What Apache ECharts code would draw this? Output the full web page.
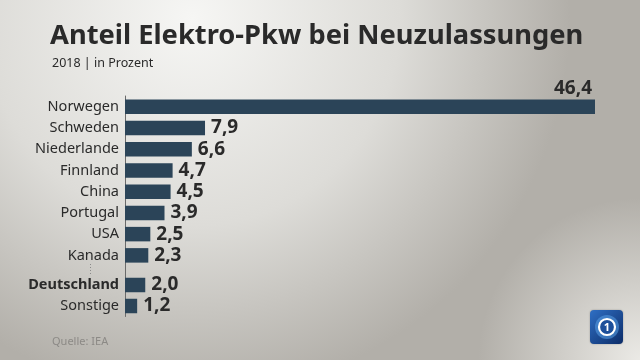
<!DOCTYPE html>
<html>
<head>
<meta charset="utf-8">
<script src="https://cdn.jsdelivr.net/npm/echarts@6/dist/echarts.min.js"></script>
<style>
html,body{margin:0;padding:0;}
#chart{width:640px;height:360px;}
</style>
</head>
<body>
<div id="chart"></div>
<script>
// Data
var topCategories = ['Norwegen', 'Schweden', 'Niederlande', 'Finnland', 'China', 'Portugal', 'USA', 'Kanada'];
var topValues = [46.4, 7.9, 6.6, 4.7, 4.5, 3.9, 2.5, 2.3];
var bottomCategories = ['Deutschland', 'Sonstige'];
var bottomValues = [2.0, 1.2];
var titleText = 'Anteil Elektro-Pkw bei Neuzulassungen';
var subtitleText = '2018 | in Prozent';
var sourceText = 'Quelle: IEA';

var BAR = '#2b4458';
var TXT = '#2a2a2a';
var X_MAX = 46.4;

function fmt(v) { return v.toFixed(1).replace('.', ','); }

var chart = echarts.init(document.getElementById('chart'), null, { renderer: 'canvas' });

var valLabel = {
  show: true, position: 'right', distance: 6,
  color: TXT, fontFamily: 'Noto Sans', fontWeight: 'bold', fontSize: 19,
  formatter: function (p) { return fmt(p.value); }
};

var topData = topValues.map(function (v, i) {
  if (i === 0) {
    return {
      value: v,
      label: { position: ['100%', 0], align: 'right', verticalAlign: 'bottom', offset: [-3, -1] }
    };
  }
  return v;
});

var option = {
  backgroundColor: {
    type: 'radial', x: 0.3, y: 0.05, r: 1.05,
    colorStops: [{ offset: 0, color: '#f6f6f4' }, { offset: 0.55, color: '#dddcd8' }, { offset: 1, color: '#b2afa9' }]
  },
  animation: false,
  title: [
    { text: titleText, left: 45, top: 18,
      textStyle: { fontFamily: 'Noto Sans', fontWeight: 'bold', fontSize: 27.3, color: '#2a2a2a' } },
    { text: subtitleText, left: 47, top: 52,
      textStyle: { fontFamily: 'Noto Sans', fontWeight: 'normal', fontSize: 12.5, color: '#2a2a2a' } },
    { text: sourceText, left: 47, top: 331,
      textStyle: { fontFamily: 'Noto Sans', fontWeight: 'normal', fontSize: 11, color: '#8c8a86' } }
  ],
  grid: [
    { left: 125, width: 470, top: 96, height: 170 },
    { left: 125, width: 470, top: 274.5, height: 42 }
  ],
  xAxis: [
    { gridIndex: 0, type: 'value', min: 0, max: X_MAX, show: false },
    { gridIndex: 1, type: 'value', min: 0, max: X_MAX, show: false }
  ],
  yAxis: [
    { gridIndex: 0, type: 'category', inverse: true, data: topCategories,
      axisTick: { show: false }, splitLine: { show: false },
      axisLine: { show: true, lineStyle: { color: '#6a6a6a', width: 1 } },
      axisLabel: { color: TXT, fontFamily: 'Noto Sans', fontSize: 14.5, margin: 6 } },
    { gridIndex: 1, type: 'category', inverse: true, data: bottomCategories,
      axisTick: { show: false }, splitLine: { show: false },
      axisLine: { show: true, lineStyle: { color: '#6a6a6a', width: 1 } },
      axisLabel: {
        color: TXT, fontFamily: 'Noto Sans', fontSize: 14.5, fontWeight: 'normal', margin: 6,
        formatter: function (v) { return v === 'Deutschland' ? '{b|' + v + '}' : '{n|' + v + '}'; },
        rich: {
          b: { fontFamily: 'Noto Sans', fontWeight: 'bold', fontSize: 14.5, color: TXT },
          n: { fontFamily: 'Noto Sans', fontWeight: 'normal', fontSize: 14.5, color: TXT }
        }
      } }
  ],
  series: [
    { type: 'bar', xAxisIndex: 0, yAxisIndex: 0, data: topData, barWidth: 14.5,
      itemStyle: { color: BAR }, label: valLabel },
    { type: 'bar', xAxisIndex: 1, yAxisIndex: 1, data: bottomValues, barWidth: 14.5,
      itemStyle: { color: BAR }, label: valLabel }
  ],
  graphic: [
    { type: 'rect', silent: true, z: -1,
      shape: { x: 0, y: 0, width: 640, height: 360 },
      style: { fill: { type: 'radial', x: 1, y: 1, r: 0.45,
        colorStops: [{ offset: 0, color: 'rgba(238,237,233,0.95)' }, { offset: 1, color: 'rgba(238,237,233,0)' }] } } },
    { type: 'line', silent: true,
      shape: { x1: 125.5, y1: 265, x2: 125.5, y2: 275 },
      style: { stroke: '#6a6a6a', lineWidth: 1 } },
    { type: 'line', silent: true,
      shape: { x1: 90.5, y1: 264, x2: 90.5, y2: 274 },
      style: { stroke: '#8a8a8a', lineWidth: 1, lineDash: [1, 2] } },
    { type: 'group', left: 590, top: 310, children: [
      { type: 'rect', shape: { x: 0, y: 0, width: 33, height: 34, r: 4 },
        style: { fill: { type: 'linear', x: 0, y: 0, x2: 1, y2: 1,
          colorStops: [{ offset: 0, color: '#2f6fc4' }, { offset: 1, color: '#0c2c68' }] },
          shadowBlur: 2, shadowColor: 'rgba(0,0,0,0.3)' } },
      { type: 'circle', shape: { cx: 17, cy: 17, r: 12 },
        style: { fill: 'rgba(90,160,230,0.55)' } },
      { type: 'circle', shape: { cx: 17, cy: 17, r: 8 },
        style: { fill: '#1d4f9a', stroke: '#ffffff', lineWidth: 2.2 } },
      { type: 'text', style: { text: '1', x: 17, y: 17.5, align: 'center', verticalAlign: 'middle',
        fill: '#ffffff', font: 'bold 11px "Noto Sans"' } }
    ] }
  ]
};
chart.setOption(option);
</script>
</body>
</html>
